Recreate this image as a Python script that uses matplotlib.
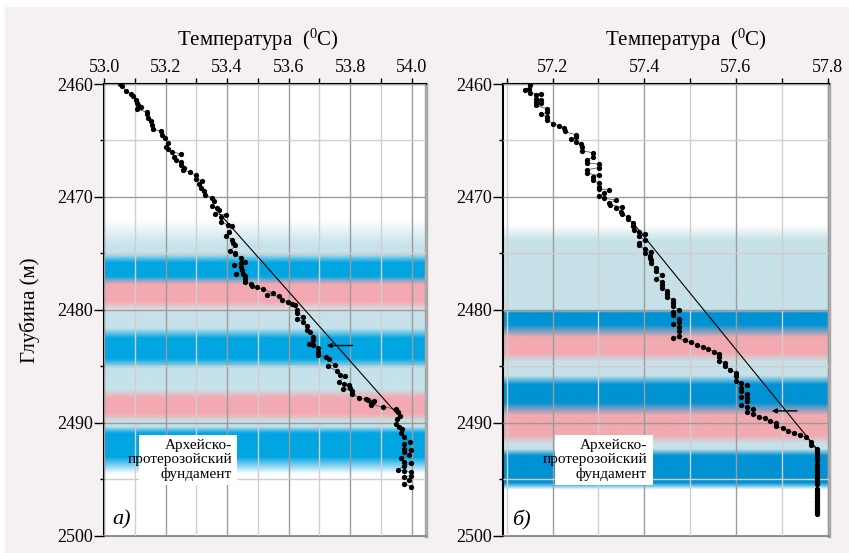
import numpy as np
import matplotlib
matplotlib.use('Agg')
import matplotlib.pyplot as plt
from matplotlib.colors import to_rgb
from matplotlib.patches import Rectangle
from matplotlib.ticker import MultipleLocator, FormatStrFormatter

plt.rcParams['font.family'] = 'serif'
plt.rcParams['font.serif'] = ['Liberation Serif', 'DejaVu Serif']
plt.rcParams['mathtext.fontset'] = 'custom'
plt.rcParams['mathtext.rm'] = 'Liberation Serif'
plt.rcParams['mathtext.it'] = 'Liberation Serif:italic'

# ---------------- data: panel a ----------------
depth_a = [2460.0, 2460.2, 2460.6, 2460.9, 2461.1, 2461.4, 2461.7, 2461.9, 2462.0, 2462.2,
           2462.5, 2462.7, 2463.0, 2463.3, 2463.6, 2464.0, 2464.2, 2464.5, 2464.8, 2465.2,
           2465.6, 2465.8, 2466.0, 2466.2, 2466.5, 2466.7, 2466.9, 2467.2, 2467.4, 2467.6,
           2467.8, 2468.1, 2468.4, 2468.6, 2468.9, 2469.2, 2469.5, 2469.8, 2470.1, 2470.4,
           2470.8, 2471.0, 2471.2, 2471.5, 2471.6, 2471.8, 2472.2, 2472.5, 2472.6, 2473.1,
           2473.5, 2473.8, 2474.1, 2474.3, 2474.8, 2475.0, 2475.1, 2475.4, 2475.8, 2475.9,
           2476.0, 2476.2, 2476.5, 2476.8, 2476.85, 2477.0, 2477.3, 2477.5, 2477.7, 2477.9,
           2478.0, 2478.2, 2478.5, 2478.7, 2478.8, 2479.1, 2479.3, 2479.5, 2479.6, 2480.0,
           2480.3, 2480.6, 2480.8, 2481.1, 2481.4, 2481.8, 2482.0, 2482.4, 2482.7, 2483.0,
           2483.1, 2483.4, 2483.7, 2484.0, 2484.2, 2484.4, 2484.9, 2485.0, 2485.4, 2485.8,
           2485.9, 2486.4, 2486.6, 2486.7, 2486.9, 2487.0, 2487.2, 2487.5, 2487.8, 2487.95,
           2488.0, 2488.1, 2488.2, 2488.35, 2488.4, 2488.6, 2488.8, 2489.1, 2489.4, 2489.7,
           2490.1, 2490.4, 2490.6, 2490.9, 2491.3, 2491.7, 2491.9, 2492.3, 2492.4, 2492.6,
           2492.9, 2493.1, 2493.5, 2493.6, 2493.8, 2494.2, 2494.3, 2494.4, 2494.7, 2494.8,
           2495.1, 2495.4, 2495.7]
temp_a = [53.052, 53.060, 53.070, 53.089, 53.095, 53.105, 53.108, 53.111, 53.119, 53.108,
          53.139, 53.141, 53.143, 53.152, 53.157, 53.160, 53.186, 53.190, 53.197, 53.208,
          53.200, 53.208, 53.222, 53.249, 53.227, 53.233, 53.249, 53.251, 53.260, 53.258,
          53.279, 53.298, 53.300, 53.319, 53.308, 53.316, 53.325, 53.327, 53.352, 53.357,
          53.352, 53.368, 53.373, 53.360, 53.398, 53.379, 53.379, 53.403, 53.417, 53.406,
          53.398, 53.417, 53.420, 53.427, 53.409, 53.427, 53.426, 53.446, 53.458, 53.447,
          53.424, 53.447, 53.450, 53.429, 53.453, 53.458, 53.458, 53.460, 53.477, 53.480,
          53.498, 53.518, 53.548, 53.529, 53.570, 53.578, 53.599, 53.610, 53.621, 53.626,
          53.628, 53.648, 53.628, 53.648, 53.661, 53.661, 53.670, 53.681, 53.681, 53.668,
          53.681, 53.697, 53.697, 53.697, 53.722, 53.730, 53.751, 53.727, 53.756, 53.767,
          53.783, 53.765, 53.780, 53.797, 53.800, 53.778, 53.808, 53.808, 53.830, 53.853,
          53.859, 53.877, 53.876, 53.869, 53.867, 53.907, 53.948, 53.955, 53.963, 53.952,
          53.948, 53.959, 53.970, 53.966, 53.974, 53.995, 53.977, 53.977, 53.999, 53.977,
          53.993, 53.966, 53.977, 53.999, 53.977, 53.955, 53.977, 53.999, 53.999, 53.977,
          53.993, 53.977, 53.999]
trend_depth_a = [2471.5, 2489.2]
trend_temp_a = [53.376, 53.952]
arrow_depth_a = 2483.17
arrow_temp_a = [53.724, 53.808]
band_depth_a = [2472.0, 2474.3, 2475.0, 2475.8, 2477.0, 2477.7, 2479.3, 2479.9, 2480.6, 2481.6,
                2482.5, 2484.3, 2485.2, 2487.0, 2487.8, 2489.2, 2489.8, 2490.3, 2490.9, 2493.0,
                2494.5]
band_color_a = ['#ffffff', '#c6e2ea', '#c6e2ea', '#00a5e2', '#00a5e2', '#f3a9b1', '#f3a9b1',
                '#d6dfe2', '#c6e2ea', '#c6e2ea', '#00a5e2', '#00a5e2', '#c6e2ea', '#c6e2ea',
                '#f3a9b1', '#f3a9b1', '#c9dfe4', '#c6e2ea', '#00a5e2', '#00a5e2', '#ffffff']

# ---------------- data: panel b ----------------
column_depth_b = [2492.45, 2492.6, 2492.75, 2492.9, 2493.05, 2493.2, 2493.35, 2493.65, 2493.8,
                  2493.95, 2494.1, 2494.25, 2494.4, 2494.55, 2494.7, 2494.85, 2495.0, 2495.15,
                  2495.3, 2495.45, 2495.85, 2496.0, 2496.15, 2496.3, 2496.45, 2496.6, 2496.75,
                  2496.9, 2497.05, 2497.2, 2497.35, 2497.5, 2497.65, 2497.8, 2497.95, 2498.1]
depth_b = [2460.1, 2460.4, 2460.5, 2460.8, 2460.9, 2461.0, 2461.3, 2461.4, 2461.6, 2461.7,
           2461.9, 2462.2, 2462.5, 2462.7, 2462.9, 2463.2, 2463.5, 2463.7, 2463.9, 2464.2,
           2464.5, 2464.7, 2464.9, 2465.1, 2465.3, 2465.6, 2465.9, 2466.1, 2466.5, 2466.7,
           2467.0, 2467.1, 2467.4, 2467.6, 2467.9, 2468.1, 2468.2, 2468.5, 2468.8, 2469.1,
           2469.3, 2469.4, 2469.7, 2469.9, 2470.1, 2470.3, 2470.5, 2470.7, 2470.9, 2471.0,
           2471.3, 2471.5, 2471.8, 2472.0, 2472.3, 2472.6, 2472.9, 2473.1, 2473.3, 2473.5,
           2473.8, 2474.1, 2474.3, 2474.6, 2474.85, 2475.0, 2475.2, 2475.4, 2475.6, 2475.9,
           2476.3, 2476.6, 2476.9, 2477.3, 2477.5, 2477.8, 2478.1, 2478.3, 2478.6, 2478.9,
           2479.1, 2479.4, 2479.7, 2480.0, 2480.2, 2480.5, 2480.8, 2481.05, 2481.3, 2481.55,
           2481.9, 2482.3, 2482.5, 2482.7, 2482.9, 2483.1, 2483.3, 2483.5, 2483.7, 2483.9,
           2484.2, 2484.5, 2484.7, 2485.0, 2485.3, 2485.6, 2485.9, 2486.3, 2486.5, 2486.7,
           2486.9, 2487.2, 2487.5, 2487.7, 2487.8, 2488.1, 2488.4, 2488.6, 2488.8, 2489.1,
           2489.2, 2489.5, 2489.6, 2489.9, 2490.05, 2490.3, 2490.5, 2490.7, 2490.9, 2491.1,
           2491.3, 2491.7, 2492.0, 2492.3] + column_depth_b
temp_b = [57.150, 57.148, 57.139, 57.150, 57.175, 57.164, 57.164, 57.175, 57.163, 57.175,
          57.164, 57.188, 57.188, 57.175, 57.188, 57.188, 57.201, 57.214, 57.225, 57.226,
          57.250, 57.250, 57.239, 57.250, 57.262, 57.264, 57.264, 57.288, 57.288, 57.275,
          57.275, 57.301, 57.301, 57.275, 57.275, 57.301, 57.288, 57.288, 57.301, 57.301,
          57.301, 57.324, 57.313, 57.301, 57.312, 57.339, 57.324, 57.326, 57.352, 57.339,
          57.350, 57.352, 57.364, 57.364, 57.375, 57.375, 57.377, 57.388, 57.401, 57.388,
          57.401, 57.388, 57.388, 57.401, 57.414, 57.401, 57.413, 57.413, 57.414, 57.414,
          57.425, 57.425, 57.438, 57.425, 57.438, 57.438, 57.438, 57.450, 57.450, 57.450,
          57.463, 57.463, 57.463, 57.476, 57.463, 57.463, 57.476, 57.476, 57.463, 57.476,
          57.476, 57.476, 57.463, 57.489, 57.501, 57.514, 57.527, 57.540, 57.552, 57.563,
          57.563, 57.563, 57.576, 57.576, 57.588, 57.600, 57.600, 57.600, 57.612, 57.625,
          57.612, 57.612, 57.625, 57.612, 57.625, 57.625, 57.612, 57.625, 57.638, 57.625,
          57.638, 57.651, 57.663, 57.675, 57.688, 57.688, 57.702, 57.714, 57.726, 57.739,
          57.752, 57.763, 57.763, 57.776] + [57.776] * len(column_depth_b)
trend_depth_b = [2472.2, 2492.3]
trend_temp_b = [57.373, 57.776]
arrow_depth_b = 2488.96
arrow_temp_b = [57.678, 57.733]
band_depth_b = [2472.5, 2473.8, 2480.0, 2480.25, 2481.3, 2482.4, 2483.8, 2484.6, 2485.8, 2486.6,
                2488.2, 2489.3, 2491.1, 2491.8, 2492.3, 2492.9, 2495.3, 2495.9]
band_color_b = ['#ffffff', '#c7e1e8', '#c7e1e8', '#0092d3', '#0092d3', '#f2a9b0', '#f2a9b0',
                '#c7e1e8', '#c7e1e8', '#0092d3', '#0092d3', '#f2a9b0', '#f2a9b0', '#c7e1e8',
                '#c7e1e8', '#0092d3', '#0092d3', '#ffffff']

depth_range = (2460, 2500)
xlim_a = (53.0, 54.047)
xlim_b = (57.0916, 57.803)
label_a = 'а)'
label_b = 'б)'
x_title = 'Температура  ($^{0}$C)'
y_title = 'Глубина (м)'
note = 'Архейско-\nпротерозойский\nфундамент'

W, H = 849, 553
fig = plt.figure(figsize=(W / 100, H / 100), dpi=100)
fig.patch.set_facecolor('white')
fig.patches.append(Rectangle((5 / W, 0), 1 - 5 / W, 1 - 7 / H, transform=fig.transFigure,
                             facecolor='#f5f0f2', edgecolor='none', zorder=-10))

axA = fig.add_axes([104 / W, 1 - 535.5 / H, 322 / W, 451.5 / H])
axB = fig.add_axes([503 / W, 1 - 535.5 / H, 326 / W, 451.5 / H])


def panel(ax, xlim, depth, temp, bd, bc, tdep, ttmp, adep, atmp, box_x, text_x, label):
    d = np.linspace(depth_range[0], depth_range[1], 1200)
    cols = np.array([to_rgb(c) for c in bc])
    rgb = np.stack([np.interp(d, bd, cols[:, i]) for i in range(3)], axis=-1)
    img = np.repeat(rgb[:, None, :], 4, axis=1)
    ax.imshow(img, extent=[xlim[0], xlim[1], depth_range[1], depth_range[0]],
              aspect='auto', interpolation='bilinear', zorder=0)
    ax.set_xlim(*xlim)
    ax.set_ylim(depth_range[1], depth_range[0])

    ax.xaxis.set_major_locator(MultipleLocator(0.2))
    ax.xaxis.set_minor_locator(MultipleLocator(0.1))
    ax.xaxis.set_major_formatter(FormatStrFormatter('%.1f'))
    ax.yaxis.set_major_locator(MultipleLocator(10))
    ax.yaxis.set_minor_locator(MultipleLocator(5))
    ax.grid(which='major', color='#9c9c9c', lw=1.0, zorder=1)
    ax.grid(which='minor', color='#cfcfcf', lw=1.0, zorder=1)
    ax.set_axisbelow(False)
    ax.xaxis.tick_top()
    ax.tick_params(axis='x', which='both', direction='out', length=4, width=1, pad=2,
                   labelsize=13, colors='black')
    ax.tick_params(axis='y', which='major', direction='out', length=7, width=1, pad=1,
                   labelsize=13)
    ax.tick_params(axis='y', which='minor', direction='out', length=3, width=1)
    for s in ('left', 'top'):
        ax.spines[s].set_color('black')
        ax.spines[s].set_linewidth(1.5)
    ax.spines['right'].set_color('#a8a8a8')
    ax.spines['right'].set_linewidth(2.5)
    ax.spines['bottom'].set_color('#8c8c8c')
    ax.spines['bottom'].set_linewidth(1.5)

    ax.plot(temp, depth, '-', color='#5a5a5a', lw=0.6, zorder=3)
    ax.plot(temp, depth, 'o', color='black', ms=3.8, mew=0, zorder=4)
    ax.plot(ttmp, tdep, '-', color='black', lw=0.8, zorder=3)
    ax.annotate('', xy=(atmp[0], adep), xytext=(atmp[1], adep),
                arrowprops=dict(arrowstyle='-|>', color='black', lw=1.0,
                                mutation_scale=7, shrinkA=0, shrinkB=0), zorder=5)

    ax.add_patch(Rectangle((box_x[0], 0.1118), box_x[1] - box_x[0], 0.1108,
                           transform=ax.transAxes, facecolor='white', edgecolor='none', zorder=6))
    ax.text(text_x, 0.167, note, transform=ax.transAxes, ha='right', va='center',
            fontsize=11, linespacing=1.1, zorder=7)
    ax.text(0.027, 0.034, label, transform=ax.transAxes, ha='left', va='center',
            fontsize=16, style='italic', zorder=7)


panel(axA, xlim_a, depth_a, temp_a, band_depth_a, band_color_a, trend_depth_a, trend_temp_a,
      arrow_depth_a, arrow_temp_a, (0.109, 0.413), 0.398, label_a)
panel(axB, xlim_b, depth_b, temp_b, band_depth_b, band_color_b, trend_depth_b, trend_temp_b,
      arrow_depth_b, arrow_temp_b, (0.160, 0.460), 0.442, label_b)

fig.text(258 / W, 1 - 40 / H, x_title, ha='center', va='center', fontsize=15)
fig.text(686 / W, 1 - 40 / H, x_title, ha='center', va='center', fontsize=15)
fig.text(30 / W, 1 - 310 / H, y_title, ha='center', va='center', fontsize=15, rotation=90)

fig.savefig('out.png', dpi=100, facecolor=fig.get_facecolor())
